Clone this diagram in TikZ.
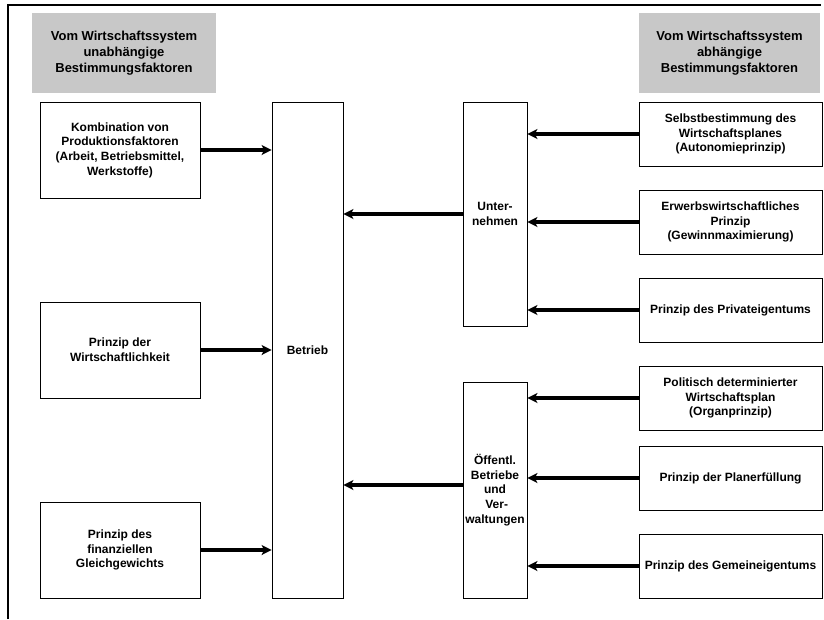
\documentclass[tikz,border=0pt]{standalone}
\usepackage{fontspec}
\setmainfont{Liberation Sans}
\usetikzlibrary{arrows.meta}
\definecolor{headgray}{RGB}{200,200,200}
\begin{document}
\begin{tikzpicture}[x=1pt,y=-1pt,
  box/.style={draw=black,line width=0.8pt,fill=white,inner sep=0pt,align=center,
    font=\fontsize{12}{14.6}\selectfont\bfseries},
  head/.style={fill=headgray,inner sep=0pt,align=center,minimum height=80pt,
    font=\fontsize{13}{15.8}\selectfont\bfseries},
  leftbox/.style={box,minimum width=160pt,minimum height=96pt},
  rightbox/.style={box,minimum width=183pt,minimum height=64pt},
  flow/.style={line width=3.8pt,-{Stealth[length=10pt,width=10pt,inset=2.5pt]}}]
\useasboundingbox (0,0) rectangle (824,619);
% open frame: left and top edges
\draw[line width=1.6pt] (8,619) -- (8,5) -- (821,5);

% column headings
\node[head,minimum width=184pt] (hl) at (124,53)
  {Vom Wirtschaftssystem\\unabhängige\\Bestimmungsfaktoren};
\node[head,minimum width=181pt] (hr) at (729.5,53)
  {Vom Wirtschaftssystem\\abhängige\\Bestimmungsfaktoren};

% independent factors
\node[leftbox] (l1) at (120,150)
  {Kombination von\\Produktionsfaktoren\\(Arbeit, Betriebsmittel,\\Werkstoffe)};
\node[leftbox] (l2) at (120,350) {Prinzip der\\Wirtschaftlichkeit};
\node[leftbox] (l3) at (120,550) {Prinzip des\\finanziellen\\Gleichgewichts};

% central column
\node[box,minimum width=71pt,minimum height=496pt] (bt) at (307.5,350) {Betrieb};
\node[box,minimum width=64pt,minimum height=224pt] (un) at (495,214) {Unter-\\nehmen};
\node[box,minimum width=64pt,minimum height=216pt] (oe) at (495,490)
  {Öffentl.\\Betriebe\\und\\\ Ver-\\waltungen};

% system-dependent factors
\node[rightbox] (r1) at (730.5,134)
  {Selbstbestimmung des\\Wirtschaftsplanes\\(Autonomieprinzip)};
\node[rightbox] (r2) at (730.5,222)
  {Erwerbswirtschaftliches\\Prinzip\\(Gewinnmaximierung)};
\node[rightbox] (r3) at (730.5,310) {Prinzip des Privateigentums};
\node[rightbox] (r4) at (730.5,398)
  {Politisch determinierter\\Wirtschaftsplan\\(Organprinzip)};
\node[rightbox] (r5) at (730.5,478) {Prinzip der Planerfüllung};
\node[rightbox] (r6) at (730.5,566) {Prinzip des Gemeineigentums};

% connectors
\draw[flow] (l1.east) -- (l1.east -| bt.west);
\draw[flow] (l2.east) -- (l2.east -| bt.west);
\draw[flow] (l3.east) -- (l3.east -| bt.west);
\draw[flow] (un.west) -- (un.west -| bt.east);
\draw[flow] ([yshift=5pt]oe.west) -- ([yshift=5pt]oe.west -| bt.east);
\draw[flow] (r1.west) -- (r1.west -| un.east);
\draw[flow] (r2.west) -- (r2.west -| un.east);
\draw[flow] (r3.west) -- (r3.west -| un.east);
\draw[flow] (r4.west) -- (r4.west -| oe.east);
\draw[flow] (r5.west) -- (r5.west -| oe.east);
\draw[flow] (r6.west) -- (r6.west -| oe.east);
\end{tikzpicture}
\end{document}
